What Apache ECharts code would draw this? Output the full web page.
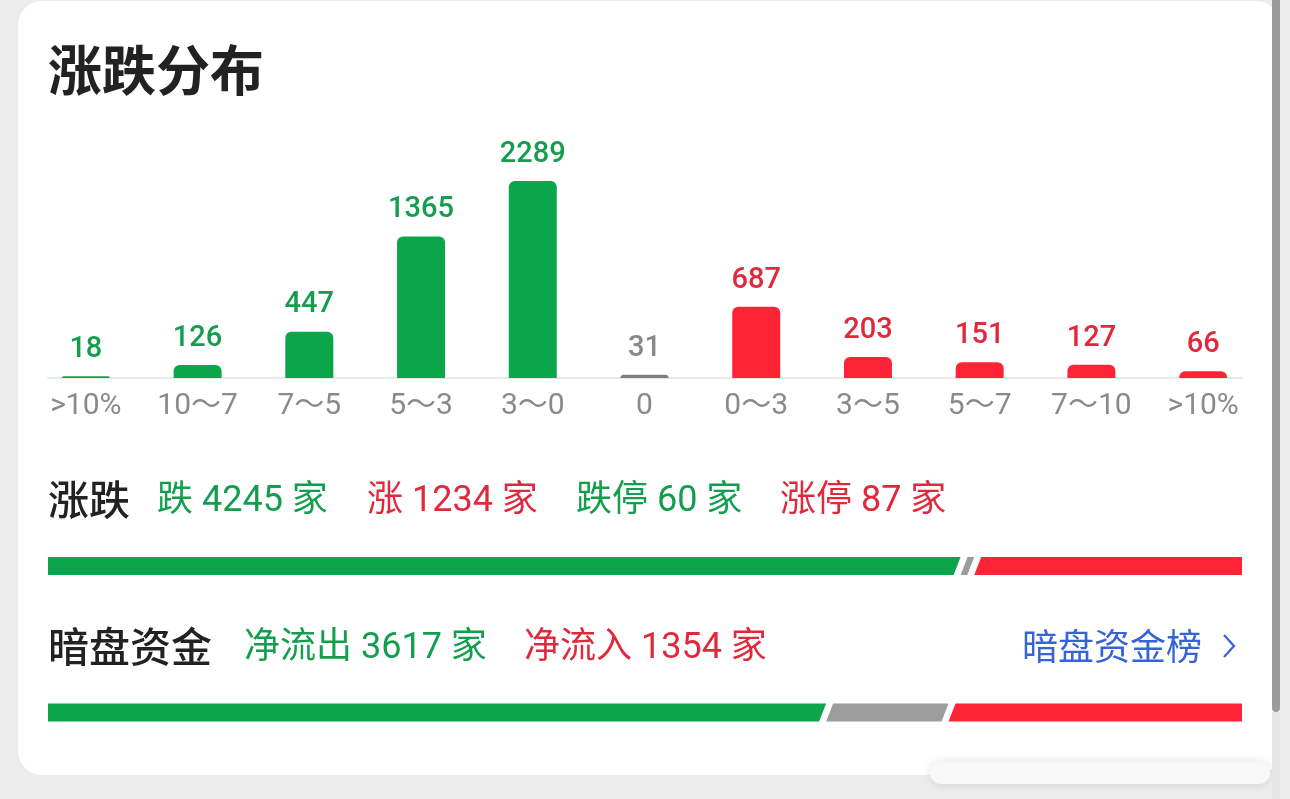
<!DOCTYPE html>
<html>
<head>
<meta charset="utf-8">
<script src="https://cdn.jsdelivr.net/npm/echarts@6/dist/echarts.min.js"></script>
<style>
html,body{margin:0;padding:0;background:#ececec;}
#chart{width:1290px;height:799px;}
</style>
</head>
<body>
<div id="chart"></div>
<script>
// ---------- data ----------
const categories = ['>10%', '10～7', '7～5', '5～3', '3～0', '0', '0～3', '3～5', '5～7', '7～10', '>10%'];
const counts = [18, 126, 447, 1365, 2289, 31, 687, 203, 151, 127, 66];
const trend = ['down', 'down', 'down', 'down', 'down', 'flat', 'up', 'up', 'up', 'up', 'up'];

const breadthNames = ['跌', '涨', '跌停', '涨停'];
const breadthValues = [4245, 1234, 60, 87];
const breadthTrend = ['down', 'up', 'down', 'up'];
const breadthBar = [4245, 31, 1234];          // down, flat, up
const breadthBarTrend = ['down', 'flat', 'up'];

const flowNames = ['净流出', '净流入'];
const flowValues = [3617, 1354];
const flowTrend = ['down', 'up'];
const flowBar = [3617, 539, 1354];            // out, neutral, in
const flowBarTrend = ['down', 'flat', 'up'];

// ---------- styles ----------
const BAR_COLOR = { down: '#0ba64b', up: '#ff2338', flat: '#7f7f7f' };
const TEXT_COLOR = { down: '#139e4d', up: '#e2283b', flat: '#888888' };
const SEG_COLOR = { down: '#0ba64b', up: '#ff2338', flat: '#9c9c9c' };
const FONT = 'Roboto, "Noto Sans CJK SC", sans-serif';
const CJK = '"Noto Sans CJK SC", Roboto, sans-serif';
const GAP = 7, SLANT = 7;

function cumulative(arr) {
  let s = 0;
  return arr.map(v => { const a = s; s += v; return [a, s]; });
}
function sum(arr) { return arr.reduce((a, b) => a + b, 0); }

function segRender(n, trends) {
  return function (params, api) {
    const i = params.dataIndex;
    const cs = params.coordSys;
    const x0 = api.coord([api.value(0), 0])[0] + i * GAP;
    const x1 = api.coord([api.value(1), 0])[0] + i * GAP;
    const y0 = cs.y, y1 = cs.y + cs.height;
    const lt = i === 0 ? [x0, y0] : [x0 + SLANT / 2, y0];
    const lb = i === 0 ? [x0, y1] : [x0 - SLANT / 2, y1];
    const rt = i === n - 1 ? [x1, y0] : [x1 + SLANT / 2, y0];
    const rb = i === n - 1 ? [x1, y1] : [x1 - SLANT / 2, y1];
    return {
      type: 'polygon',
      shape: { points: [lt, rt, rb, lb] },
      style: { fill: SEG_COLOR[trends[i]] }
    };
  };
}

const chart = echarts.init(document.getElementById('chart'), null, { renderer: 'canvas' });

const ROW1_Y = 499, ROW2_Y = 646, MIX_SHIFT = 3;
const graphics = [
  { type: 'rect', shape: { x: 18, y: 1, width: 1262, height: 774, r: 24 }, style: { fill: '#ffffff' }, z: -10 },
  { type: 'rect', shape: { x: 1272, y: 0, width: 8, height: 712, r: [0, 0, 4, 4] }, style: { fill: '#9b9b9b' }, z: 10 },
  { type: 'rect', shape: { x: 1272, y: 712, width: 8, height: 87 }, style: { fill: '#e6e6e6' }, z: 9 },
  { type: 'rect', shape: { x: 930, y: 762, width: 340, height: 22, r: 11 }, style: { fill: '#f8f8f8', shadowBlur: 10, shadowColor: 'rgba(0,0,0,0.12)' }, z: -5 },
  { type: 'text', x: 48, y: 70, style: { text: '涨跌分布', fill: '#222222', font: 'bold 54px ' + CJK, verticalAlign: 'middle' } },
  { type: 'text', x: 48, y: ROW1_Y, style: { text: '涨跌', fill: '#222222', font: '500 41px ' + CJK, verticalAlign: 'middle' } },
  { type: 'text', x: 48, y: ROW2_Y, style: { text: '暗盘资金', fill: '#222222', font: '500 41px ' + CJK, verticalAlign: 'middle' } },
  { type: 'text', x: 1022, y: ROW2_Y, style: { text: '暗盘资金榜', fill: '#3763d8', font: '36px ' + CJK, verticalAlign: 'middle' } },
  { type: 'polyline', shape: { points: [[1224, 635], [1234, 646], [1224, 657]] }, style: { stroke: '#3763d8', lineWidth: 2.2, fill: null } }
];
const breadthX = [157, 367, 576, 780];
breadthNames.forEach((n, i) => {
  graphics.push({ type: 'text', x: breadthX[i], y: ROW1_Y + MIX_SHIFT, style: { text: n + ' ' + breadthValues[i] + ' 家', fill: TEXT_COLOR[breadthTrend[i]], font: '36px ' + FONT, verticalAlign: 'middle' } });
});
const flowX = [244, 524];
flowNames.forEach((n, i) => {
  graphics.push({ type: 'text', x: flowX[i], y: ROW2_Y + MIX_SHIFT, style: { text: n + ' ' + flowValues[i] + ' 家', fill: TEXT_COLOR[flowTrend[i]], font: '36px ' + FONT, verticalAlign: 'middle' } });
});

const option = {
  backgroundColor: '#ececec',
  animation: false,
  graphic: { elements: graphics },
  grid: [
    { left: 30, right: 31, top: 181, bottom: 421 },                 // distribution bars
    { left: 48, right: 48, top: 300, bottom: 421 },                 // baseline
    { left: 48, width: 1194 - 2 * GAP, top: 557, height: 18 },      // breadth bar
    { left: 48, width: 1194 - 2 * GAP, top: 703.5, height: 18 }     // flow bar
  ],
  xAxis: [
    {
      type: 'category', gridIndex: 0, data: categories,
      axisLine: { show: false }, axisTick: { show: false },
      axisLabel: { color: '#8a8a8a', fontSize: 30, fontFamily: FONT, margin: 13, interval: 0 }
    },
    {
      type: 'value', gridIndex: 1, min: 0, max: 1,
      axisLine: { show: true, lineStyle: { color: '#e8e8e8', width: 2 } },
      axisTick: { show: false }, axisLabel: { show: false }, splitLine: { show: false }
    },
    { type: 'value', gridIndex: 2, min: 0, max: sum(breadthBar), show: false },
    { type: 'value', gridIndex: 3, min: 0, max: sum(flowBar), show: false }
  ],
  yAxis: [
    { type: 'value', gridIndex: 0, min: 0, max: 1900, show: false },
    { type: 'value', gridIndex: 1, min: 0, max: 1, show: false },
    { type: 'value', gridIndex: 2, min: 0, max: 1, show: false },
    { type: 'value', gridIndex: 3, min: 0, max: 1, show: false }
  ],
  series: [
    {
      type: 'bar', xAxisIndex: 0, yAxisIndex: 0,
      barWidth: 48, clip: true,
      data: counts.map((v, i) => ({
        value: v,
        itemStyle: { color: BAR_COLOR[trend[i]], borderRadius: [6, 6, 0, 0] },
        label: { color: TEXT_COLOR[trend[i]] }
      })),
      label: { show: true, position: 'top', distance: 12, fontSize: 29, fontWeight: 500, fontFamily: FONT }
    },
    {
      type: 'custom', xAxisIndex: 2, yAxisIndex: 2,
      renderItem: segRender(breadthBar.length, breadthBarTrend),
      data: cumulative(breadthBar)
    },
    {
      type: 'custom', xAxisIndex: 3, yAxisIndex: 3,
      renderItem: segRender(flowBar.length, flowBarTrend),
      data: cumulative(flowBar)
    }
  ]
};
chart.setOption(option);
</script>
</body>
</html>
